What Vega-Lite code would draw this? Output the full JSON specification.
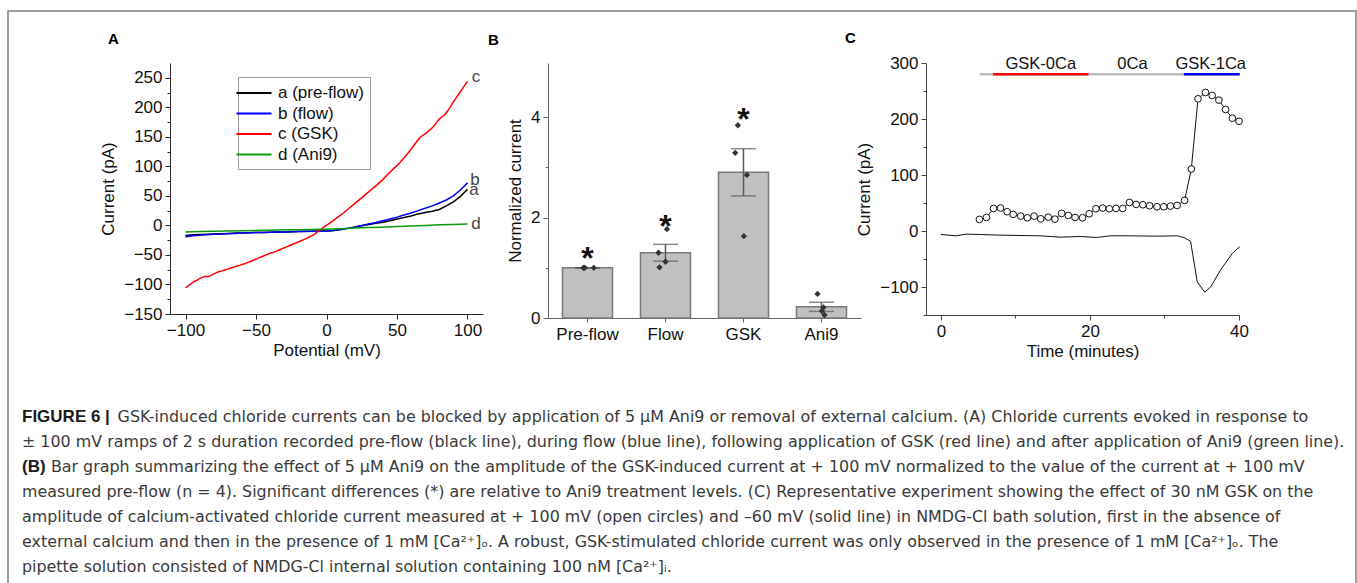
{
  "$schema": "https://vega.github.io/schema/vega-lite/v6.json",
  "background": "white",
  "padding": {"left": 7, "top": 10, "right": 0, "bottom": 0},
  "config": {
    "view": {"stroke": null},
    "font": "Liberation Sans",
    "axis": {"labelFont": "Liberation Sans", "titleFont": "Liberation Sans", "labelFontSize": 17, "titleFontSize": 17, "titleFontWeight": "normal", "labelColor": "#111", "titleColor": "#111", "grid": false, "labelFlush": false, "labelOverlap": false, "labelBound": false},
    "title": {"font": "Liberation Sans", "fontSize": 15, "fontWeight": "bold", "color": "#000", "anchor": "start", "frame": "group", "baseline": "alphabetic"}
  },
  "columns": 1,
  "align": "none",
  "bounds": "flush",
  "spacing": {"row": -528, "column": 0},
  "resolve": {"scale": {"color": "independent"}, "legend": {"color": "independent"}},
  "concat": [
    {
      "width": 1348,
      "height": 580,
      "view": {"stroke": "#7f7f7f", "strokeWidth": 1.5},
      "data": {"values": [
        {"ln": 1, "w": "n", "txt": "\u200b\u2003\u2003\u2003\u2003\u2003\u2005\u2005\u2009 GSK-induced chloride currents can be blocked by application of 5 μM Ani9 or removal of external calcium. (A) Chloride currents evoked in response to"},
        {"ln": 2, "w": "n", "txt": "± 100 mV ramps of 2 s duration recorded pre-flow (black line), during flow (blue line), following application of GSK (red line) and after application of Ani9 (green line)."},
        {"ln": 3, "w": "n", "txt": "\u200b\u2003\u2002 Bar graph summarizing the effect of 5 μM Ani9 on the amplitude of the GSK-induced current at + 100 mV normalized to the value of the current at + 100 mV"},
        {"ln": 4, "w": "n", "txt": "measured pre-flow (n = 4). Significant differences (*) are relative to Ani9 treatment levels. (C) Representative experiment showing the effect of 30 nM GSK on the"},
        {"ln": 5, "w": "n", "txt": "amplitude of calcium-activated chloride current measured at + 100 mV (open circles) and –60 mV (solid line) in NMDG-Cl bath solution, first in the absence of"},
        {"ln": 6, "w": "n", "txt": "external calcium and then in the presence of 1 mM [Ca²⁺]ₒ. A robust, GSK-stimulated chloride current was only observed in the presence of 1 mM [Ca²⁺]ₒ. The"},
        {"ln": 7, "w": "n", "txt": "pipette solution consisted of NMDG-Cl internal solution containing 100 nM [Ca²⁺]ᵢ."},
        {"ln": 1, "w": "b", "txt": "FIGURE 6 |"},
        {"ln": 3, "w": "b", "txt": "(B)"}
      ]},
      "layer": [
        {
          "transform": [{"filter": "datum.w === 'n'"}],
          "mark": {"type": "text", "align": "left", "baseline": "alphabetic", "font": "DejaVu Sans", "fontSize": 15.9, "color": "#3a3a3a"},
          "encoding": {
            "x": {"value": 14},
            "y": {"field": "ln", "type": "quantitative", "scale": {"domain": [-15.43, 7.77], "reverse": true, "nice": false, "zero": false}, "axis": null},
            "text": {"field": "txt"}
          }
        },
        {
          "transform": [{"filter": "datum.w === 'b'"}],
          "mark": {"type": "text", "align": "left", "baseline": "alphabetic", "font": "Liberation Sans", "fontSize": 17, "fontWeight": "bold", "color": "#1a1a1a"},
          "encoding": {
            "x": {"value": 14},
            "y": {"field": "ln", "type": "quantitative"},
            "text": {"field": "txt"}
          }
        }
      ]
    },
    {
      "bounds": "flush",
      "spacing": 65,
      "resolve": {"scale": {"color": "independent"}, "legend": {"color": "independent"}},
      "hconcat": [
        {
          "width": 97,
          "height": 10,
          "data": {"values": [{"k": 0}]},
          "mark": {"type": "point", "opacity": 0}
        },
        {
          "width": 313,
          "height": 251,
          "title": {"text": "A", "dx": -62, "offset": 16},
          "resolve": {"axis": {"y": "independent"}},
          "data": {"values": [
            {"s":"a","v":-100,"i":-17},{"s":"a","v":-95,"i":-16},{"s":"a","v":-90,"i":-15.5},{"s":"a","v":-85,"i":-15},{"s":"a","v":-80,"i":-14.5},{"s":"a","v":-75,"i":-14},{"s":"a","v":-70,"i":-13.5},{"s":"a","v":-65,"i":-13},{"s":"a","v":-60,"i":-13},{"s":"a","v":-55,"i":-12.5},{"s":"a","v":-50,"i":-12},{"s":"a","v":-45,"i":-12},{"s":"a","v":-40,"i":-11.5},{"s":"a","v":-35,"i":-11},{"s":"a","v":-30,"i":-11},{"s":"a","v":-25,"i":-10.5},{"s":"a","v":-20,"i":-10.5},{"s":"a","v":-15,"i":-10},{"s":"a","v":-10,"i":-10},{"s":"a","v":-5,"i":-9.5},{"s":"a","v":0,"i":-9.5},{"s":"a","v":5,"i":-8.5},{"s":"a","v":10,"i":-7},{"s":"a","v":15,"i":-5},{"s":"a","v":20,"i":-3},{"s":"a","v":25,"i":-0.5},{"s":"a","v":30,"i":1.5},{"s":"a","v":35,"i":3.5},{"s":"a","v":40,"i":5.5},{"s":"a","v":45,"i":8},{"s":"a","v":50,"i":11},{"s":"a","v":55,"i":13.5},{"s":"a","v":60,"i":16},{"s":"a","v":65,"i":19.5},{"s":"a","v":70,"i":22},{"s":"a","v":75,"i":24},{"s":"a","v":80,"i":27},{"s":"a","v":85,"i":33},{"s":"a","v":90,"i":40},{"s":"a","v":95,"i":49},{"s":"a","v":100,"i":61},
            {"s":"b","v":-100,"i":-19},{"s":"b","v":-95,"i":-17.5},{"s":"b","v":-90,"i":-16.5},{"s":"b","v":-85,"i":-16},{"s":"b","v":-80,"i":-15},{"s":"b","v":-75,"i":-14.5},{"s":"b","v":-70,"i":-14},{"s":"b","v":-65,"i":-13.5},{"s":"b","v":-60,"i":-13},{"s":"b","v":-55,"i":-12.5},{"s":"b","v":-50,"i":-12},{"s":"b","v":-45,"i":-12},{"s":"b","v":-40,"i":-11.5},{"s":"b","v":-35,"i":-11},{"s":"b","v":-30,"i":-11},{"s":"b","v":-25,"i":-11},{"s":"b","v":-20,"i":-10.5},{"s":"b","v":-15,"i":-10.5},{"s":"b","v":-10,"i":-10},{"s":"b","v":-5,"i":-10},{"s":"b","v":0,"i":-9.5},{"s":"b","v":5,"i":-8.5},{"s":"b","v":10,"i":-7},{"s":"b","v":15,"i":-5},{"s":"b","v":20,"i":-2.5},{"s":"b","v":25,"i":0},{"s":"b","v":30,"i":2.5},{"s":"b","v":35,"i":5},{"s":"b","v":40,"i":8},{"s":"b","v":45,"i":11},{"s":"b","v":50,"i":14},{"s":"b","v":55,"i":17.5},{"s":"b","v":60,"i":21},{"s":"b","v":65,"i":25},{"s":"b","v":70,"i":29},{"s":"b","v":75,"i":33},{"s":"b","v":80,"i":38},{"s":"b","v":85,"i":43},{"s":"b","v":90,"i":50},{"s":"b","v":95,"i":60},{"s":"b","v":100,"i":72},
            {"s":"c","v":-100,"i":-106},{"s":"c","v":-98,"i":-102},{"s":"c","v":-96,"i":-99},{"s":"c","v":-94,"i":-95},{"s":"c","v":-92,"i":-93},{"s":"c","v":-90,"i":-90},{"s":"c","v":-88,"i":-88},{"s":"c","v":-86,"i":-86},{"s":"c","v":-84,"i":-87},{"s":"c","v":-82,"i":-85},{"s":"c","v":-80,"i":-82},{"s":"c","v":-78,"i":-80},{"s":"c","v":-76,"i":-78},{"s":"c","v":-74,"i":-77},{"s":"c","v":-72,"i":-75},{"s":"c","v":-70,"i":-74},{"s":"c","v":-68,"i":-72},{"s":"c","v":-66,"i":-71},{"s":"c","v":-64,"i":-69},{"s":"c","v":-62,"i":-68},{"s":"c","v":-60,"i":-66},{"s":"c","v":-58,"i":-65},{"s":"c","v":-56,"i":-63},{"s":"c","v":-54,"i":-61},{"s":"c","v":-52,"i":-59},{"s":"c","v":-50,"i":-57},{"s":"c","v":-48,"i":-55},{"s":"c","v":-46,"i":-53},{"s":"c","v":-44,"i":-51},{"s":"c","v":-42,"i":-49},{"s":"c","v":-40,"i":-47},{"s":"c","v":-38,"i":-46},{"s":"c","v":-36,"i":-44},{"s":"c","v":-34,"i":-42},{"s":"c","v":-32,"i":-40},{"s":"c","v":-30,"i":-38},{"s":"c","v":-28,"i":-36},{"s":"c","v":-26,"i":-34},{"s":"c","v":-24,"i":-32},{"s":"c","v":-22,"i":-30},{"s":"c","v":-20,"i":-28},{"s":"c","v":-18,"i":-26},{"s":"c","v":-16,"i":-24},{"s":"c","v":-14,"i":-22},{"s":"c","v":-12,"i":-19},{"s":"c","v":-10,"i":-17},{"s":"c","v":-8,"i":-14},{"s":"c","v":-6,"i":-10},{"s":"c","v":-4,"i":-7},{"s":"c","v":-2,"i":-3},{"s":"c","v":0,"i":0},{"s":"c","v":4,"i":7},{"s":"c","v":8,"i":14},{"s":"c","v":12,"i":21},{"s":"c","v":16,"i":29},{"s":"c","v":20,"i":37},{"s":"c","v":24,"i":45},{"s":"c","v":28,"i":53},{"s":"c","v":32,"i":61},{"s":"c","v":36,"i":69},{"s":"c","v":40,"i":78},{"s":"c","v":44,"i":88},{"s":"c","v":48,"i":97},{"s":"c","v":52,"i":106},{"s":"c","v":56,"i":117},{"s":"c","v":60,"i":129},{"s":"c","v":64,"i":142},{"s":"c","v":66,"i":148},{"s":"c","v":68,"i":152},{"s":"c","v":70,"i":155},{"s":"c","v":72,"i":159},{"s":"c","v":74,"i":163},{"s":"c","v":76,"i":168},{"s":"c","v":78,"i":174},{"s":"c","v":80,"i":180},{"s":"c","v":82,"i":184},{"s":"c","v":84,"i":188},{"s":"c","v":86,"i":194},{"s":"c","v":88,"i":201},{"s":"c","v":90,"i":209},{"s":"c","v":92,"i":216},{"s":"c","v":94,"i":223},{"s":"c","v":96,"i":230},{"s":"c","v":98,"i":237},{"s":"c","v":100,"i":244},
            {"s":"d","v":-100,"i":-11},{"s":"d","v":-90,"i":-10.5},{"s":"d","v":-80,"i":-10},{"s":"d","v":-70,"i":-9.5},{"s":"d","v":-60,"i":-9},{"s":"d","v":-50,"i":-8.5},{"s":"d","v":-40,"i":-8},{"s":"d","v":-30,"i":-7.5},{"s":"d","v":-20,"i":-7.5},{"s":"d","v":-10,"i":-7},{"s":"d","v":0,"i":-6.5},{"s":"d","v":10,"i":-5.5},{"s":"d","v":20,"i":-4.5},{"s":"d","v":30,"i":-3.5},{"s":"d","v":40,"i":-3},{"s":"d","v":50,"i":-2},{"s":"d","v":60,"i":-1},{"s":"d","v":70,"i":0},{"s":"d","v":80,"i":1},{"s":"d","v":90,"i":1.5},{"s":"d","v":100,"i":2.5}
          ]},
          "layer": [
            {
              "mark": {"type": "line", "strokeWidth": 1.5},
              "encoding": {
                "x": {"field": "v", "type": "quantitative", "scale": {"domain": [-111, 111], "nice": false, "zero": false},
                  "axis": {"title": "Potential (mV)", "values": [-100,-75,-50,-25,0,25,50,75,100], "labelExpr": "datum.value % 50 === 0 ? datum.label : ''", "labelOverlap": false, "tickSize": {"condition": {"test": "datum.value % 50 === 0", "value": 5}, "value": 3}, "domainColor": "#222", "tickColor": "#222", "labelPadding": 3, "titlePadding": 4}},
                "y": {"field": "i", "type": "quantitative", "scale": {"domain": [-150, 275], "nice": false, "zero": false},
                  "axis": {"orient": "left", "title": "Current (pA)", "values": [-150,-50,50,150,250], "labelOverlap": false, "tickSize": 5, "domainColor": "#222", "tickColor": "#222", "labelPadding": 3, "titlePadding": 6}},
                "color": {"field": "s", "type": "nominal", "scale": {"domain": ["a","b","c","d"], "range": ["#000000","#0000ff","#ff0000","#0a9a0a"]},
                  "legend": {"title": null, "orient": "none", "legendX": 68, "legendY": 14, "labelExpr": "{'a':'a (pre-flow)','b':'b (flow)','c':'c (GSK)','d':'d (Ani9)'}[datum.label]", "symbolType": "M-2,0H2", "symbolSize": 306, "symbolStrokeWidth": 2, "labelFontSize": 17, "labelFont": "Liberation Sans", "labelColor": "#111", "labelOffset": 14, "padding": 6, "rowPadding": 2.5, "strokeColor": "#999", "fillColor": "white", "cornerRadius": 0}}
              }
            },
            {
              "data": {"values": [{"t":"c","v":106,"i":243},{"t":"b","v":105.3,"i":69},{"t":"a","v":104.6,"i":51},{"t":"d","v":106,"i":-6.5}]},
              "mark": {"type": "text", "fontSize": 17, "font": "Liberation Sans", "color": "#444", "align": "center", "baseline": "alphabetic"},
              "encoding": {
                "x": {"field": "v", "type": "quantitative"},
                "y": {"field": "i", "type": "quantitative",
                  "axis": {"orient": "left", "title": null, "values": [-100,0,100,200], "labelOverlap": false, "tickSize": 5, "domain": false, "tickColor": "#222", "labelPadding": 3}},
                "text": {"field": "t"}
              }
            },
            {
              "data": {"values": [{"i": 0}]},
              "mark": {"type": "point", "opacity": 0},
              "encoding": {
                "y": {"field": "i", "type": "quantitative",
                  "axis": {"orient": "left", "title": null, "values": [-125,-75,-25,25,75,125,175,225], "labels": false, "tickSize": 3, "domain": false, "tickColor": "#222"}}
              }
            }
          ]
        },
        {
          "width": 313,
          "height": 255,
          "title": {"text": "B", "dx": -60, "offset": 15},
          "data": {"values": [
            {"cond":"Pre-flow","val":1.0,"jit":-4},{"cond":"Pre-flow","val":1.0,"jit":-2.7},{"cond":"Pre-flow","val":1.0,"jit":6.3},{"cond":"Pre-flow","val":1.0,"jit":-3.5},
            {"cond":"Flow","val":1.30,"jit":-7},{"cond":"Flow","val":1.12,"jit":0},{"cond":"Flow","val":1.01,"jit":-6},{"cond":"Flow","val":1.77,"jit":1.4},
            {"cond":"GSK","val":3.84,"jit":-5.6},{"cond":"GSK","val":3.29,"jit":-8.3},{"cond":"GSK","val":2.85,"jit":3.4},{"cond":"GSK","val":1.63,"jit":0.4},
            {"cond":"Ani9","val":0.48,"jit":-4},{"cond":"Ani9","val":0.21,"jit":2},{"cond":"Ani9","val":0.14,"jit":0.4},{"cond":"Ani9","val":0.06,"jit":3}
          ]},
          "encoding": {
            "x": {"field": "cond", "type": "nominal", "sort": ["Pre-flow","Flow","GSK","Ani9"], "scale": {"paddingInner": 0.359, "paddingOuter": 0.186},
              "axis": {"title": null, "labelAngle": 0, "domainColor": "#666", "tickColor": "#666", "tickSize": 4, "labelPadding": 4}}
          },
          "layer": [
            {
              "mark": {"type": "bar", "fill": "#c0c0c0", "stroke": "#7a7a7a", "strokeWidth": 1.5, "width": 50},
              "encoding": {
                "y": {"aggregate": "mean", "field": "val", "type": "quantitative", "title": "Normalized current", "scale": {"domain": [0, 5.08], "nice": false},
                  "axis": {"title": "Normalized current", "values": [0,1,2,3,4], "labelExpr": "datum.value % 2 === 0 ? datum.label : ''", "labelOverlap": false, "tickSize": {"condition": {"test": "datum.value % 2 === 0", "value": 5}, "value": 3}, "domainColor": "#666", "tickColor": "#666", "labelPadding": 3, "titlePadding": 6}}
              }
            },
            {
              "mark": {"type": "errorbar", "extent": "stderr", "color": "#5a5a5a", "thickness": 1.5, "ticks": {"size": 25, "color": "#5a5a5a", "thickness": 1.5}},
              "encoding": {"y": {"field": "val", "type": "quantitative", "title": "Normalized current"}}
            },
            {
              "mark": {"type": "point", "shape": "diamond", "filled": true, "color": "#333333", "size": 40, "opacity": 1},
              "encoding": {
                "xOffset": {"field": "jit", "type": "quantitative", "scale": {"domain": [-10, 10], "range": [15, 35]}},
                "y": {"field": "val", "type": "quantitative", "title": "Normalized current"}
              }
            },
            {
              "data": {"values": [{"cond":"Pre-flow","y":1.27},{"cond":"Flow","y":1.92},{"cond":"GSK","y":4.04}]},
              "mark": {"type": "text", "text": "*", "fontSize": 32, "fontWeight": "bold", "font": "Liberation Sans", "color": "#111", "baseline": "middle", "dy": 5},
              "encoding": {"y": {"field": "y", "type": "quantitative", "title": "Normalized current"}}
            }
          ]
        },
        {
          "width": 313,
          "height": 252,
          "title": {"text": "C", "dx": -81, "offset": 8},
          "resolve": {"axis": {"y": "independent"}},
          "layer": [
            {
              "data": {"values": [{"seg":"gray","t0":5.2,"t1":40.1,"lvl":280},{"seg":"red","t0":7,"t1":19.8,"lvl":280},{"seg":"blue","t0":32.6,"t1":40.1,"lvl":280}]},
              "mark": {"type": "rule", "strokeWidth": 2.5},
              "encoding": {
                "x": {"field": "t0", "type": "quantitative", "scale": {"domain": [-2, 40], "nice": false, "zero": false},
                  "axis": {"title": "Time (minutes)", "values": [0,10,20,30,40], "labelExpr": "datum.value % 20 === 0 ? datum.label : ''", "labelOverlap": false, "tickSize": {"condition": {"test": "datum.value % 20 === 0", "value": 5}, "value": 3}, "domainColor": "#444", "tickColor": "#444", "labelPadding": 3, "titlePadding": 4}},
                "x2": {"field": "t1"},
                "y": {"field": "lvl", "type": "quantitative", "scale": {"domain": [-150, 300], "nice": false, "zero": false},
                  "axis": {"orient": "left", "title": "Current (pA)", "values": [-100,0,100,200,300], "labelOverlap": false, "tickSize": 5, "domainColor": "#444", "tickColor": "#444", "labelPadding": 3, "titlePadding": 6}},
                "color": {"field": "seg", "type": "nominal", "scale": {"domain": ["gray","red","blue"], "range": ["#bdbdbd","#ff0000","#0000ff"]}, "legend": null}
              }
            },
            {
              "data": {"values": [{"t":13.4,"lvl":289,"txt":"GSK-0Ca"},{"t":25.7,"lvl":289,"txt":"0Ca"},{"t":36.2,"lvl":289,"txt":"GSK-1Ca"}]},
              "mark": {"type": "text", "fontSize": 16.5, "font": "Liberation Sans", "color": "#111", "align": "center", "baseline": "alphabetic"},
              "encoding": {
                "x": {"field": "t", "type": "quantitative"},
                "y": {"field": "lvl", "type": "quantitative",
                  "axis": {"orient": "left", "title": null, "values": [-150,-50,50,150,250], "labels": false, "tickSize": 3, "domain": false, "tickColor": "#444"}},
                "text": {"field": "txt"}
              }
            },
            {
              "data": {"values": [
                {"t":0,"c":-6.2},{"t":2.0,"c":-8.6},{"t":3.4,"c":-5.6},{"t":5.2,"c":-6.2},{"t":7.9,"c":-7.4},{"t":10.6,"c":-8},{"t":13.3,"c":-8.6},{"t":16,"c":-11},{"t":18.7,"c":-9.8},{"t":20.9,"c":-11.6},{"t":22.7,"c":-8.6},{"t":25.4,"c":-8.6},{"t":29,"c":-9.2},{"t":31.7,"c":-8.6},{"t":32.6,"c":-11.6},{"t":33.5,"c":-18.2},{"t":34.4,"c":-91},{"t":35.4,"c":-109},{"t":36.2,"c":-100},{"t":37.5,"c":-70},{"t":39.1,"c":-40},{"t":40.1,"c":-28}
              ]},
              "mark": {"type": "line", "color": "#111", "strokeWidth": 1},
              "encoding": {
                "x": {"field": "t", "type": "quantitative"},
                "y": {"field": "c", "type": "quantitative", "axis": null}
              }
            },
            {
              "data": {"values": [
                {"t":5.17,"c":20.7},{"t":6.11,"c":24.2},{"t":7.06,"c":40.3},{"t":8.0,"c":41},{"t":8.9,"c":34.4},{"t":9.7,"c":29.6},{"t":10.7,"c":26.6},{"t":11.6,"c":23.6},{"t":12.5,"c":26.6},{"t":13.4,"c":21.8},{"t":14.4,"c":24.8},{"t":15.3,"c":21.2},{"t":16.2,"c":31.4},{"t":17.1,"c":27.8},{"t":18.0,"c":24.2},{"t":19.0,"c":23.6},{"t":19.9,"c":30.8},{"t":20.8,"c":39.7},{"t":21.7,"c":41},{"t":22.6,"c":39.7},{"t":23.5,"c":40.3},{"t":24.4,"c":40.3},{"t":25.3,"c":51},{"t":26.2,"c":47.5},{"t":27.1,"c":46.9},{"t":28.0,"c":45.1},{"t":29.0,"c":43.3},{"t":29.9,"c":43.3},{"t":30.8,"c":44.5},{"t":31.7,"c":45.7},{"t":32.7,"c":54.6},{"t":33.6,"c":110.7},{"t":34.5,"c":236},{"t":35.5,"c":247.4},{"t":36.4,"c":242},{"t":37.3,"c":233.7},{"t":38.2,"c":217},{"t":39.1,"c":201.5},{"t":40.0,"c":196}
              ]},
              "mark": {"type": "line", "color": "#111", "strokeWidth": 1, "point": {"filled": false, "fill": "white", "stroke": "#111", "strokeWidth": 1, "size": 45}},
              "encoding": {
                "x": {"field": "t", "type": "quantitative"},
                "y": {"field": "c", "type": "quantitative", "axis": null}
              }
            }
          ]
        }
      ]
    }
  ]
}
